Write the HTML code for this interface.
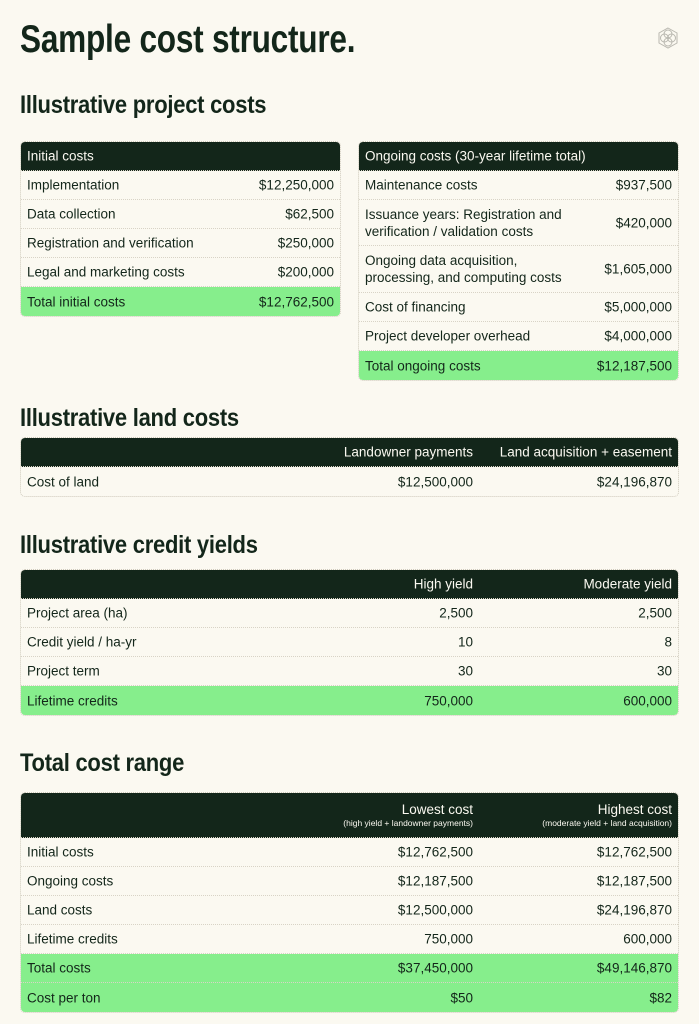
<!DOCTYPE html>
<html><head><meta charset="utf-8"><style>
*{margin:0;padding:0;box-sizing:border-box}
body{width:699px;height:1024px;background:#fbf9f1;font-family:"Liberation Sans",sans-serif;color:#13261a;position:relative;overflow:hidden}
.h{position:absolute;left:20px;font-family:"Liberation Sans Narrow","Liberation Sans",sans-serif;font-weight:bold;color:#13261a;letter-spacing:-0.3px;transform-origin:0 0;transform:scaleX(0.88);white-space:nowrap}
.t{position:absolute;border:1px dotted #cfcabc;border-radius:5px;overflow:hidden;background:#fbf9f1}
.r{position:relative;height:29px;border-bottom:1px dotted #d8d3c6;font-size:13.5px}
.r:last-child{border-bottom:none}
.hd{background:#13261a;color:#fbf9f1}
.g{background:#86ee8c}
.r span{position:absolute;top:50%;transform:translateY(-50%);white-space:nowrap;line-height:17px}
.l{left:6px}
.v{right:6px;text-align:right}
.c1{right:205px;text-align:right}
small{font-size:8.5px;display:block;line-height:11px}
</style></head><body>
<div class="h" style="top:18px;font-size:39px;transform:scaleX(0.81)">Sample cost structure.</div>
<svg style="position:absolute;left:657px;top:27px" width="22" height="22" viewBox="0 0 22 22"><g fill="none" stroke="#b9b8b0" stroke-width="1"><polygon points="11,1 20,6 20,16 11,21 2,16 2,6"/><circle cx="11" cy="7" r="4"/><circle cx="11" cy="15" r="4"/><circle cx="7.5" cy="11" r="4"/><circle cx="14.5" cy="11" r="4"/></g></svg>

<div class="h" style="top:91px;font-size:25px">Illustrative project costs</div>
<div class="t" style="left:20px;top:141px;width:321px">
<div class="r hd"><span class="l">Initial costs</span></div>
<div class="r"><span class="l">Implementation</span><span class="v">$12,250,000</span></div>
<div class="r"><span class="l">Data collection</span><span class="v">$62,500</span></div>
<div class="r"><span class="l">Registration and verification</span><span class="v">$250,000</span></div>
<div class="r"><span class="l">Legal and marketing costs</span><span class="v">$200,000</span></div>
<div class="r g"><span class="l">Total initial costs</span><span class="v">$12,762,500</span></div>
</div>
<div class="t" style="left:358px;top:141px;width:321px">
<div class="r hd"><span class="l">Ongoing costs (30-year lifetime total)</span></div>
<div class="r"><span class="l">Maintenance costs</span><span class="v">$937,500</span></div>
<div class="r" style="height:46px"><span class="l">Issuance years: Registration and<br>verification / validation costs</span><span class="v">$420,000</span></div>
<div class="r" style="height:47px"><span class="l">Ongoing data acquisition,<br>processing, and computing costs</span><span class="v">$1,605,000</span></div>
<div class="r"><span class="l">Cost of financing</span><span class="v">$5,000,000</span></div>
<div class="r"><span class="l">Project developer overhead</span><span class="v">$4,000,000</span></div>
<div class="r g"><span class="l">Total ongoing costs</span><span class="v">$12,187,500</span></div>
</div>

<div class="h" style="top:404px;font-size:25px">Illustrative land costs</div>
<div class="t" style="left:20px;top:437px;width:659px">
<div class="r hd"><span class="c1">Landowner payments</span><span class="v">Land acquisition + easement</span></div>
<div class="r"><span class="l">Cost of land</span><span class="c1">$12,500,000</span><span class="v">$24,196,870</span></div>
</div>

<div class="h" style="top:531px;font-size:25px">Illustrative credit yields</div>
<div class="t" style="left:20px;top:569px;width:659px">
<div class="r hd"><span class="c1">High yield</span><span class="v">Moderate yield</span></div>
<div class="r"><span class="l">Project area (ha)</span><span class="c1">2,500</span><span class="v">2,500</span></div>
<div class="r"><span class="l">Credit yield / ha-yr</span><span class="c1">10</span><span class="v">8</span></div>
<div class="r"><span class="l">Project term</span><span class="c1">30</span><span class="v">30</span></div>
<div class="r g"><span class="l">Lifetime credits</span><span class="c1">750,000</span><span class="v">600,000</span></div>
</div>

<div class="h" style="top:749px;font-size:25px">Total cost range</div>
<div class="t" style="left:20px;top:792px;width:659px">
<div class="r hd" style="height:45px"><span class="c1">Lowest cost<small>(high yield + landowner payments)</small></span><span class="v">Highest cost<small>(moderate yield + land acquisition)</small></span></div>
<div class="r"><span class="l">Initial costs</span><span class="c1">$12,762,500</span><span class="v">$12,762,500</span></div>
<div class="r"><span class="l">Ongoing costs</span><span class="c1">$12,187,500</span><span class="v">$12,187,500</span></div>
<div class="r"><span class="l">Land costs</span><span class="c1">$12,500,000</span><span class="v">$24,196,870</span></div>
<div class="r"><span class="l">Lifetime credits</span><span class="c1">750,000</span><span class="v">600,000</span></div>
<div class="r g"><span class="l">Total costs</span><span class="c1">$37,450,000</span><span class="v">$49,146,870</span></div>
<div class="r g"><span class="l">Cost per ton</span><span class="c1">$50</span><span class="v">$82</span></div>
</div>
</body></html>
